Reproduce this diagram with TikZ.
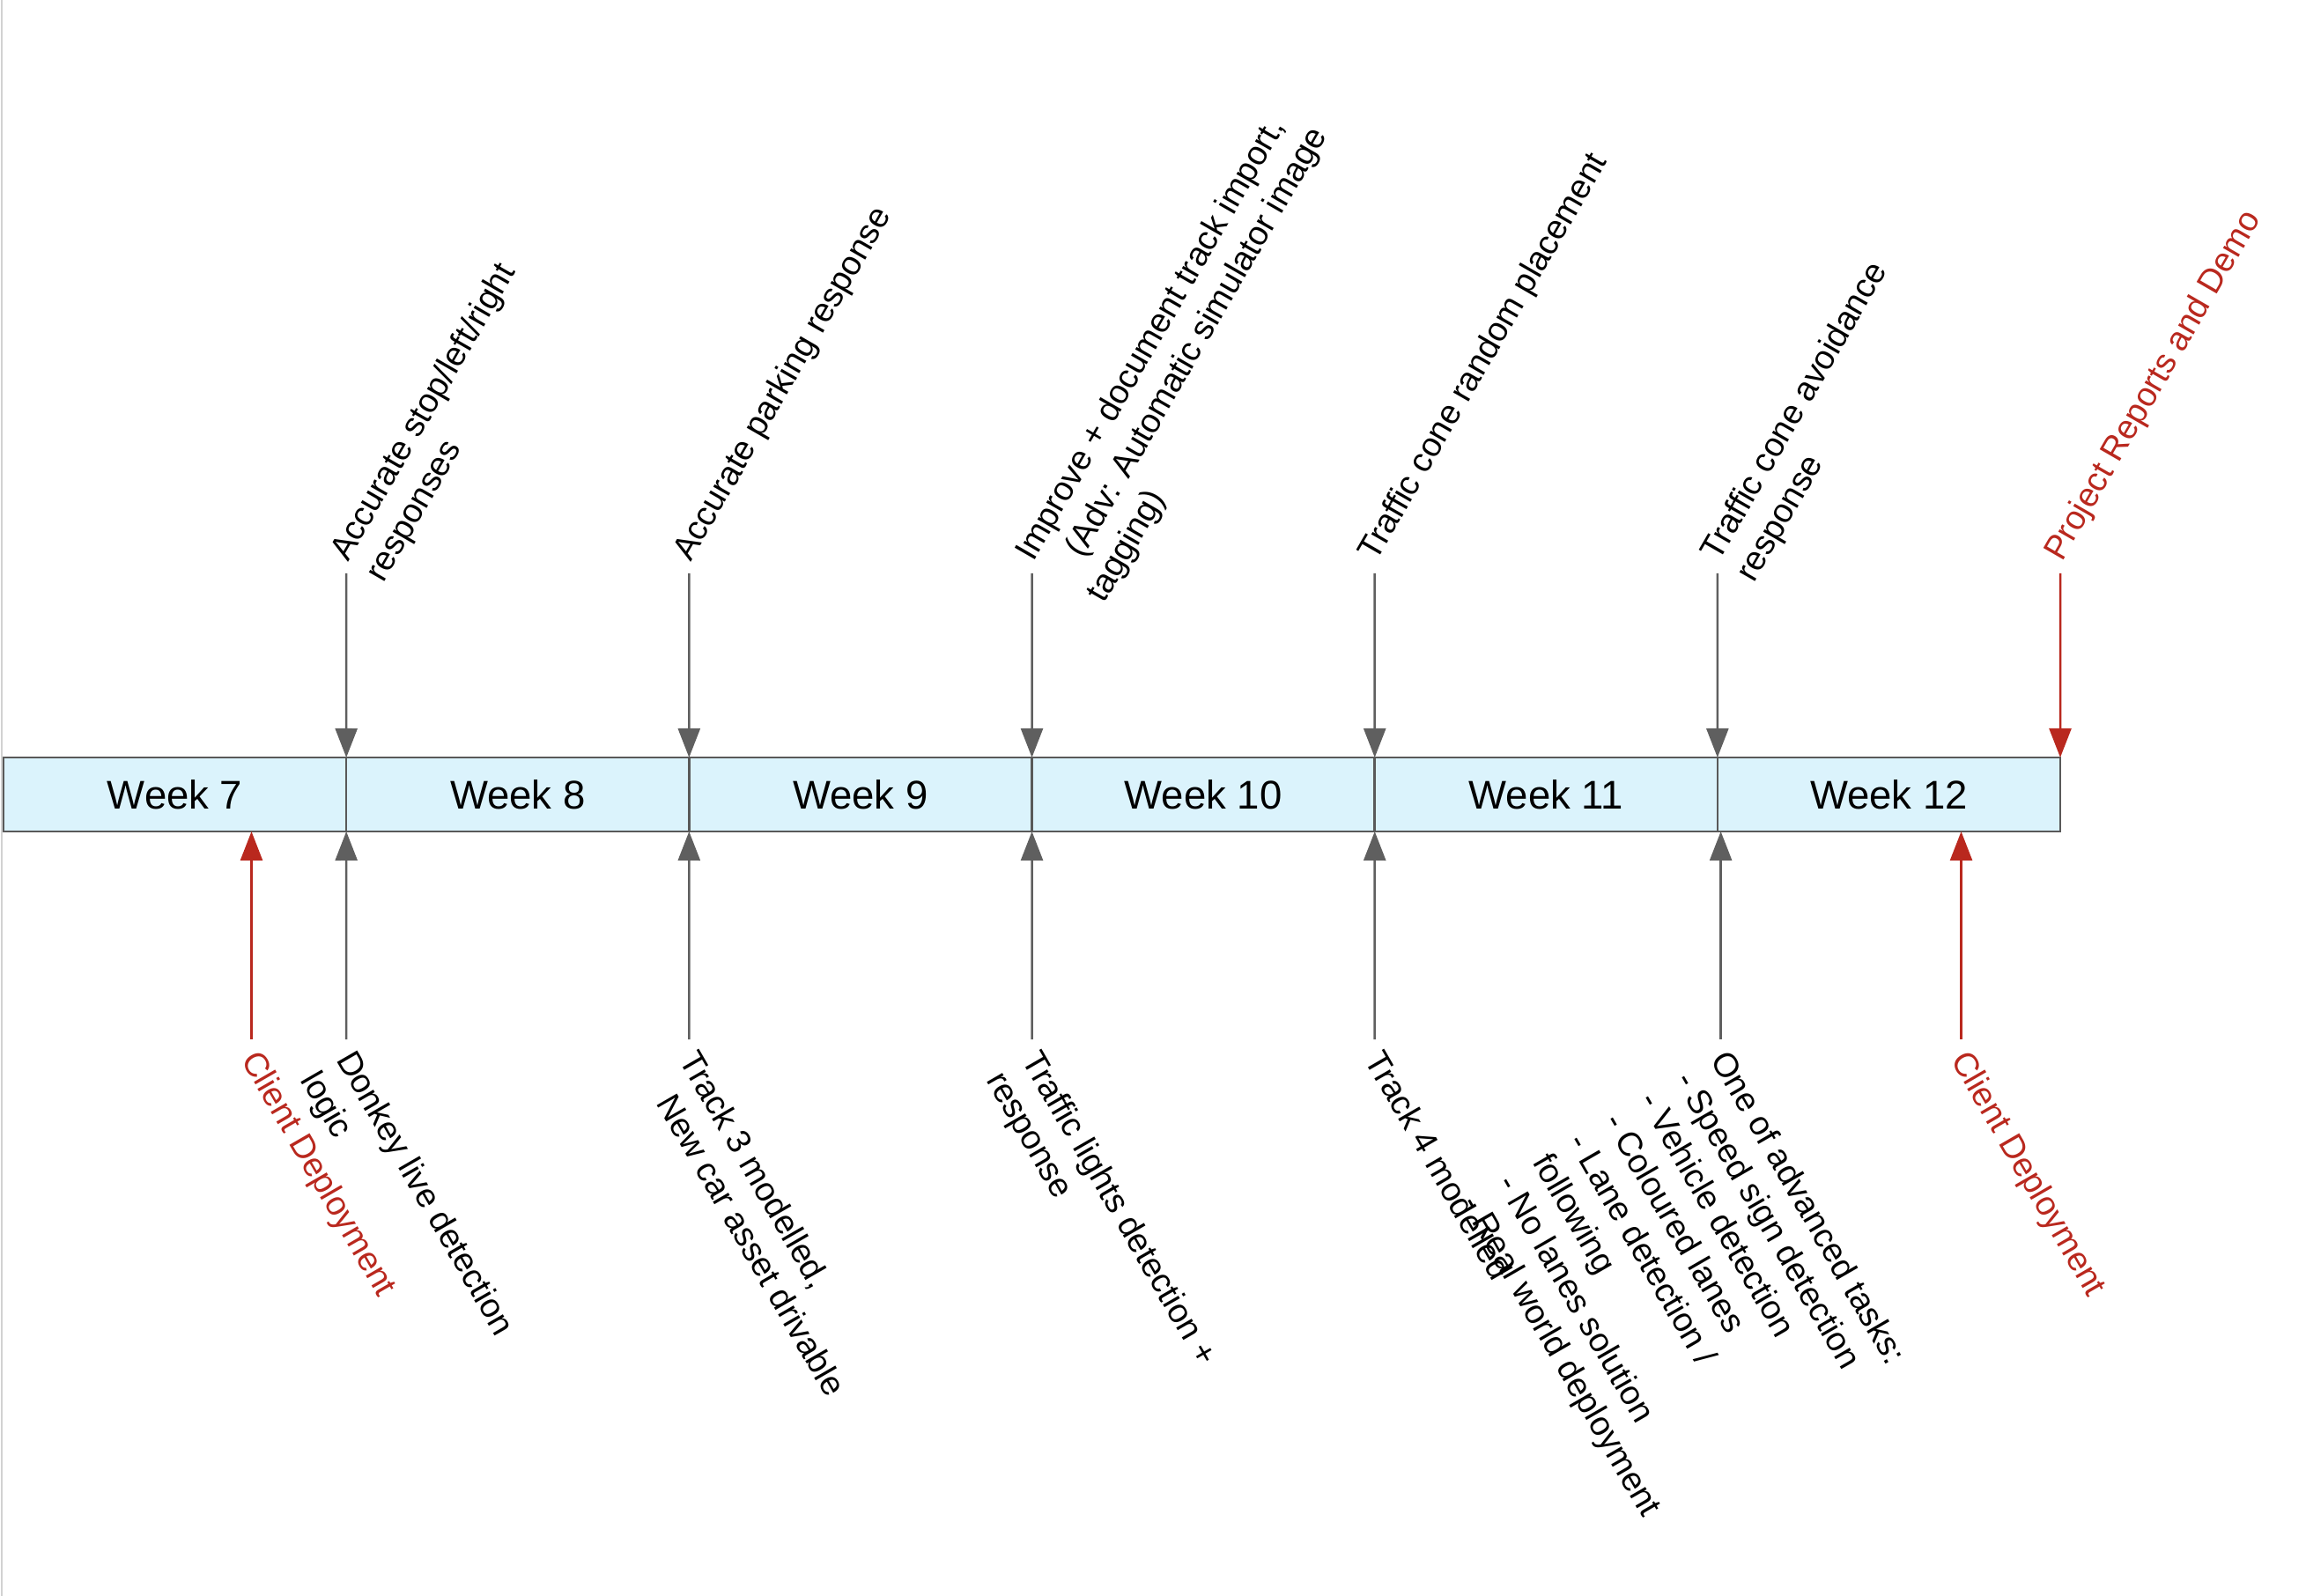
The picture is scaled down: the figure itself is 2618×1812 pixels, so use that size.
\documentclass[tikz,border=0pt]{standalone}
\usepackage{fontspec}
\setmainfont{Liberation Sans}
\usetikzlibrary{arrows.meta}
\definecolor{barfill}{RGB}{219,243,252}
\definecolor{bardraw}{RGB}{89,89,89}
\definecolor{arrgray}{RGB}{95,95,95}
\definecolor{arrred}{RGB}{185,40,30}
\definecolor{edgegray}{RGB}{210,210,210}
\begin{document}
\begin{tikzpicture}[x=0.3pt,y=-0.3pt,
  week/.style={draw=bardraw, fill=barfill, line width=0.75pt, minimum width=116.75pt,
    minimum height=25.2pt, inner sep=0pt, outer sep=0pt,
    font=\fontsize{13.65pt}{16pt}\selectfont},
  garrow/.style={draw=arrgray, line width=0.75pt, -{Triangle[length=9.9pt,width=7.5pt]}},
  rarrow/.style={draw=arrred, line width=0.75pt, -{Triangle[length=9.9pt,width=7.5pt]}},
  lbl/.style={anchor=base west, inner sep=0pt, outer sep=0pt,
    font=\fontsize{11.5pt}{14pt}\selectfont},
  uplabel/.style={lbl, rotate=60},
  downlabel/.style={lbl, rotate=-60},
  redtext/.style={text=arrred},
]
\useasboundingbox (0,0) rectangle (2618,1812);
\draw[edgegray, line width=0.7pt] (2,0) -- (2,1812);

% timeline cells
\node[week] (w7)  at (198.6,902)  {Week 7};
\node[week] (w8)  at (587.75,902) {Week 8};
\node[week] (w9)  at (976.9,902)  {Week 9};
\node[week] (w10) at (1366.1,902) {Week 10};
\node[week] (w11) at (1755.3,902) {Week 11};
\node[week] (w12) at (2144.4,902) {Week 12};

% top arrow start points
\coordinate (a8)  at (393.2,651);
\coordinate (a9)  at (782.3,651);
\coordinate (a10) at (1171.5,651);
\coordinate (a11) at (1560.7,651);
\coordinate (a12) at (1949.8,651);
\coordinate (ae)  at (2339,651);

\draw[garrow] (a8)  -- (w8.north west);
\draw[garrow] (a9)  -- (w9.north west);
\draw[garrow] (a10) -- (w10.north west);
\draw[garrow] (a11) -- (w11.north west);
\draw[garrow] (a12) -- (w12.north west);
\draw[rarrow] (ae)  -- (w12.north east);

% bottom arrow start points
\coordinate (bc7) at (285.5,1180);
\coordinate (b8)  at (393.2,1180);
\coordinate (b9)  at (782.3,1180);
\coordinate (b10) at (1171.5,1180);
\coordinate (b11) at (1560.7,1180);
\coordinate (b12) at (1953.6,1180);
\coordinate (bc12) at (2226.5,1180);

\draw[rarrow] (bc7) -- (bc7 |- w7.south);
\draw[garrow] (b8)  -- (w8.south west);
\draw[garrow] (b9)  -- (w9.south west);
\draw[garrow] (b10) -- (w10.south west);
\draw[garrow] (b11) -- (w11.south west);
\draw[garrow] (b12) -- (b12 |- w12.south);
\draw[rarrow] (bc12) -- (bc12 |- w12.south);

% top labels
\node[uplabel] (la8) at (395,639) {\vtop{\hbox{Accurate stop/left/right}\hbox{responses}}};
\node[uplabel] (la9) at (784,639) {\vtop{\hbox{Accurate parking response}}};
\node[uplabel] (la10) at (1173,639) {\vtop{\hbox{Improve + document track import,}\hbox{\hspace*{9.6pt}(Adv: Automatic simulator image}\hbox{tagging)}}};
\node[uplabel] (la11) at (1562,639) {\vtop{\hbox{Traffic cone random placement}}};
\node[uplabel] (la12) at (1951,639) {\vtop{\hbox{Traffic cone avoidance}\hbox{response}}};
\node[uplabel, redtext] (lpr) at (2341,639) {\vtop{\hbox{Project Reports and Demo}}};

% bottom labels
\node[downlabel, redtext] (lc7) at (273.5,1203) {\vtop{\hbox{Client Deployment}}};
\node[downlabel] (ld8) at (381.2,1203) {\vtop{\hbox{Donkey live detection}\hbox{logic}}};
\node[downlabel] (lt3) at (770.3,1203) {\vtop{\hbox{Track 3 modelled,}\hbox{\hspace*{9pt}New car asset drivable}}};
\node[downlabel] (ltl) at (1159.5,1203) {\vtop{\hbox{Traffic lights detection +}\hbox{response}}};
\node[downlabel] (lt4) at (1548.7,1203) {\vtop{\hbox{Track 4 modelled}}};
\node[downlabel] (lad) at (1941.6,1203) {\vtop{\hbox{One of advanced tasks:}\hbox{- Speed sign detection}\hbox{- Vehicle detection}\hbox{- Coloured lanes}\hbox{- Lane detection /}\hbox{following}\hbox{- No lanes solution}\hbox{- Real world deployment}}};
\node[downlabel, redtext] (lc12) at (2214.5,1203) {\vtop{\hbox{Client Deployment}}};
\end{tikzpicture}
\end{document}
